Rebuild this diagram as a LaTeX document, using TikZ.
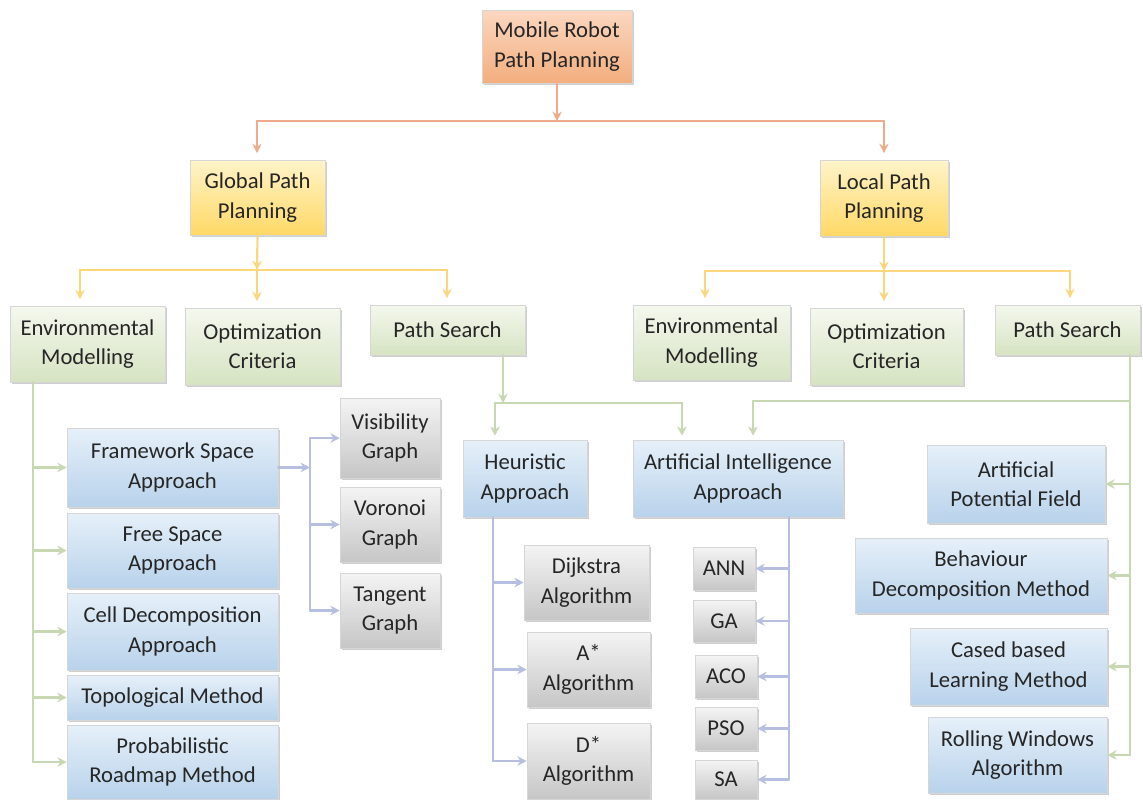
\documentclass[tikz,border=0pt]{standalone}
\usepackage{fontspec}
\setmainfont{Carlito}
\usetikzlibrary{arrows.meta,shadows}

\definecolor{txt}{HTML}{262626}
\definecolor{orgT}{HTML}{FBD7C0}\definecolor{orgB}{HTML}{F3AE7E}
\definecolor{yelT}{HTML}{FFF3C9}\definecolor{yelB}{HTML}{FFD966}
\definecolor{grnT}{HTML}{F4F8EE}\definecolor{grnB}{HTML}{D6E3C2}
\definecolor{bluT}{HTML}{E6F0F9}\definecolor{bluB}{HTML}{B8D2EB}
\definecolor{gryT}{HTML}{F4F4F4}\definecolor{gryB}{HTML}{C6C6C6}
\definecolor{orgL}{HTML}{EFAA8A}
\definecolor{yelL}{HTML}{FCD67C}
\definecolor{grnL}{HTML}{C8D8B2}
\definecolor{lavL}{HTML}{B6BFE2}

\tikzset{
  box/.style={rectangle, align=center, inner sep=1.5pt, text=txt,
    font=\fontsize{17}{22}\selectfont, draw=black!16, line width=0.4pt,
    drop shadow={shadow xshift=1.6pt, shadow yshift=-1.8pt, opacity=0.35, fill=black!55}},
  orangebox/.style={box, top color=orgT, bottom color=orgB},
  yellowbox/.style={box, top color=yelT, bottom color=yelB},
  greenbox/.style={box, top color=grnT, bottom color=grnB},
  bluebox/.style={box, top color=bluT, bottom color=bluB},
  greybox/.style={box, top color=gryT, bottom color=gryB},
  conn/.style={line width=1.6pt, line cap=round},
  tip/.style={-{Stealth[length=7pt,width=7pt]}},
  oline/.style={conn, draw=orgL},
  yline/.style={conn, draw=yelL},
  gline/.style={conn, draw=grnL},
  lline/.style={conn, draw=lavL},
}

% box from its corners (pixel coordinates, y downwards)
\newcommand{\bx}[7]{%
  \node[#2, minimum width={(#5-(#3))*0.75pt}, minimum height={(#6-(#4))*0.75pt}]
    (#1) at ({(#3+#5)/2},{(#4+#6)/2}) {#7};}

\begin{document}
\begin{tikzpicture}[x=0.75pt,y=-0.75pt]
\useasboundingbox[fill=white] (0,0) rectangle (1143,800);

% ---- boxes ----
\bx{root}{orangebox}{482}{10}{632}{83}{Mobile Robot\\Path Planning}
\bx{gpp}{yellowbox}{190}{160}{325}{235}{Global Path\\Planning}
\bx{lpp}{yellowbox}{820}{160}{948}{236}{Local Path\\Planning}

\bx{envL}{greenbox}{10}{306}{165}{382}{Environmental\\Modelling}
\bx{optL}{greenbox}{185}{308}{340}{385}{Optimization\\Criteria}
\bx{psL}{greenbox}{370}{305}{525}{355}{Path Search}
\bx{envR}{greenbox}{633}{305}{790}{380}{Environmental\\Modelling}
\bx{optR}{greenbox}{810}{308}{963}{385}{Optimization\\Criteria}
\bx{psR}{greenbox}{995}{305}{1140}{355}{Path Search}

\bx{fsa}{bluebox}{67}{428}{278}{507}{Framework Space\\Approach}
\bx{free}{bluebox}{67}{513}{278}{588}{Free Space\\Approach}
\bx{cell}{bluebox}{67}{593}{278}{670}{Cell Decomposition\\Approach}
\bx{topo}{bluebox}{67}{675}{278}{720}{Topological Method}
\bx{prob}{bluebox}{67}{725}{278}{799}{Probabilistic\\Roadmap Method}

\bx{vis}{greybox}{340}{398}{440}{478}{Visibility\\Graph}
\bx{vor}{greybox}{340}{487}{440}{562}{Voronoi\\Graph}
\bx{tan}{greybox}{340}{573}{440}{648}{Tangent\\Graph}

\bx{heu}{bluebox}{463}{440}{587}{517}{Heuristic\\Approach}
\bx{ai}{bluebox}{633}{440}{843}{517}{Artificial Intelligence\\Approach}

\bx{dij}{greybox}{524}{545}{649}{620}{Dijkstra\\Algorithm}
\bx{ast}{greybox}{527}{632}{650}{707}{A*\\Algorithm}
\bx{dst}{greybox}{527}{723}{650}{799}{D*\\Algorithm}

\bx{ann}{greybox}{693}{547}{755}{590}{ANN}
\bx{ga}{greybox}{693}{600}{755}{642}{GA}
\bx{aco}{greybox}{695}{655}{757}{698}{ACO}
\bx{pso}{greybox}{695}{707}{757}{750}{PSO}
\bx{sa}{greybox}{695}{760}{757}{799}{SA}

\bx{apf}{bluebox}{927}{445}{1105}{523}{Artificial\\Potential Field}
\bx{beh}{bluebox}{855}{538}{1107}{613}{Behaviour\\Decomposition Method}
\bx{cbl}{bluebox}{910}{628}{1107}{705}{Cased based\\Learning Method}
\bx{rwa}{bluebox}{928}{717}{1107}{793}{Rolling Windows\\Algorithm}

% ---- junction points ----
\coordinate (j0) at (557,121);
\coordinate (jg) at (257,121);
\coordinate (jl) at (884,121);
\coordinate (g0) at (257,270);
\coordinate (g1) at (80,270);
\coordinate (g3) at (447,270);
\coordinate (l0) at (884,271);
\coordinate (l1) at (705,271);
\coordinate (l3) at (1070,271);
\coordinate (eL) at (33,0);
\coordinate (fj) at (310,0);
\coordinate (pL) at (503,403);
\coordinate (pL1) at (495,403);
\coordinate (pL2) at (682,403);
\coordinate (pR) at (1130,401);
\coordinate (pR1) at (753,401);
\coordinate (hx) at (493,0);
\coordinate (ax) at (789,0);

% ---- root level ----
\draw[oline,tip] (root.south) -- (j0);
\draw[oline] (jg) -- (jl);
\draw[oline,tip,shorten >=5pt] (jg) -- (jg |- gpp.north);
\draw[oline,tip,shorten >=5pt] (jl) -- (jl |- lpp.north);

% ---- global / local level ----
\draw[yline,tip] (gpp.south) -- (g0);
\draw[yline] (g1) -- (g3);
\draw[yline,tip,shorten >=5pt] (g1) -- (g1 |- envL.north);
\draw[yline,tip,shorten >=5pt] (g0) -- (g0 |- optL.north);
\draw[yline,tip,shorten >=5pt] (g3) -- (g3 |- psL.north);

\draw[yline,tip] (lpp.south) -- (l0);
\draw[yline] (l1) -- (l3);
\draw[yline,tip,shorten >=5pt] (l1) -- (l1 |- envR.north);
\draw[yline,tip,shorten >=5pt] (l0) -- (l0 |- optR.north);
\draw[yline,tip,shorten >=5pt] (l3) -- (l3 |- psR.north);

% ---- environmental modelling (global) ----
\draw[gline] (eL |- envL.south) -- (eL |- prob.west);
\foreach \n in {fsa,free,cell,topo,prob}
  \draw[gline,tip] (eL |- \n.west) -- (\n.west);

% ---- framework space graphs ----
\draw[lline,tip] (fsa.east) -- (fj |- fsa.east);
\draw[lline] (fj |- vis.west) -- (fj |- tan.west);
\foreach \n in {vis,vor,tan}
  \draw[lline,tip] (fj |- \n.west) -- (\n.west);

% ---- path search (global) ----
\draw[gline,tip] (pL |- psL.south) -- (pL);
\draw[gline] (pL1) -- (pL2);
\draw[gline,tip,shorten >=3pt] (pL1) -- (pL1 |- heu.north);
\draw[gline,tip,shorten >=3pt] (pL2) -- (pL2 |- ai.north);

% ---- path search (local) ----
\draw[gline] (pR |- psR.south) -- (pR |- rwa.east);
\draw[gline] (pR) -- (pR1);
\draw[gline,tip,shorten >=3pt] (pR1) -- (pR1 |- ai.north);
\foreach \n in {apf,beh,cbl,rwa}
  \draw[gline,tip] (pR |- \n.east) -- (\n.east);

% ---- heuristic approach ----
\draw[lline] (hx |- heu.south) -- (hx |- dst.west);
\foreach \n in {dij,ast,dst}
  \draw[lline,tip] (hx |- \n.west) -- (\n.west);

% ---- artificial intelligence approach ----
\draw[lline] (ax |- ai.south) -- (ax |- sa.east);
\foreach \n in {ann,ga,aco,pso,sa}
  \draw[lline,tip] (ax |- \n.east) -- (\n.east);

\end{tikzpicture}
\end{document}
